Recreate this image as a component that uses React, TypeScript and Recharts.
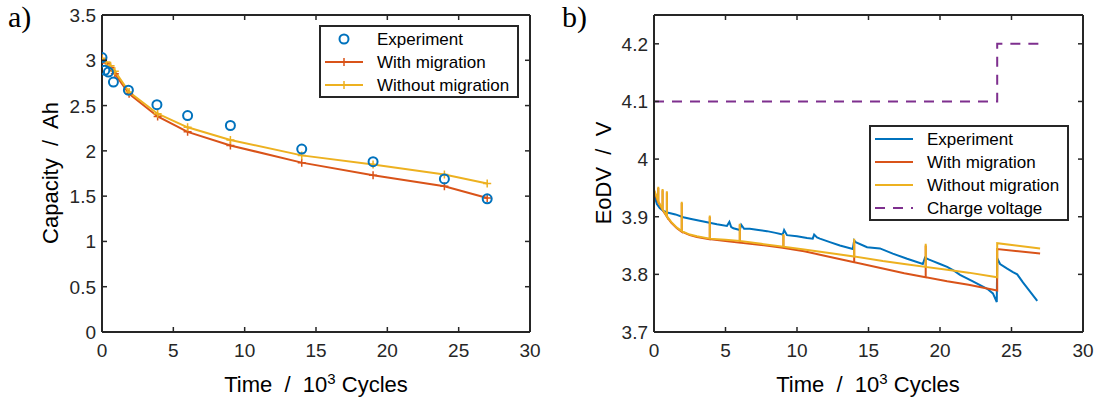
import { ComposedChart, Line, Scatter, XAxis, YAxis } from "recharts";

// ---- panel a) capacity ----
const capModelTime = [0, 0.3, 0.6, 0.9, 1.9, 3.9, 6, 9, 14, 19, 24, 27];
const capExpTime = [0, 0.2, 0.45, 0.8, 1.85, 3.85, 6, 9, 14, 19, 24, 27];
const capExp = [3.03, 2.89, 2.87, 2.76, 2.67, 2.51, 2.39, 2.28, 2.02, 1.88, 1.69, 1.47];
const capWith = [3.02, 2.97, 2.92, 2.85, 2.63, 2.38, 2.21, 2.06, 1.87, 1.73, 1.61, 1.48];
const capWithout = [3.02, 2.98, 2.94, 2.88, 2.65, 2.41, 2.26, 2.12, 1.95, 1.85, 1.74, 1.64];

// ---- panel b) end of discharge voltage ----
const eodvExpTime = [
  0, 0.2, 0.4, 0.65, 1.0, 1.5, 2.05, 2.6, 3.2, 3.8, 4.4, 5.1, 5.27, 5.4, 5.55, 6.0, 6.1, 6.3, 6.7,
  7.3, 7.9, 8.5, 9.0, 9.1, 9.3, 10.0, 10.7, 11.1, 11.2, 11.4, 11.6, 12.3, 13.0, 13.9, 14.0, 14.1,
  14.9, 15.8, 16.7, 17.7, 18.8, 18.95, 19.2, 19.5, 20.0, 20.5, 21.0, 21.4, 22.3, 23.3, 23.7, 23.97,
  24.0, 24.2, 24.7, 25.1, 25.4, 25.8, 26.3, 26.8,
];
const eodvExp = [
  3.94, 3.922, 3.915, 3.91, 3.907, 3.904, 3.899, 3.896, 3.893, 3.89, 3.887, 3.884, 3.891, 3.882,
  3.88, 3.877, 3.886, 3.879, 3.879, 3.877, 3.875, 3.872, 3.869, 3.877, 3.868, 3.866, 3.863, 3.862,
  3.869, 3.864, 3.862, 3.856, 3.85, 3.844, 3.859, 3.856, 3.847, 3.845, 3.836, 3.827, 3.818, 3.829,
  3.826, 3.823, 3.818, 3.813, 3.806, 3.799, 3.788, 3.775, 3.767, 3.752, 3.828, 3.818, 3.81, 3.804,
  3.8, 3.786, 3.77, 3.754,
];
const eodvModelTime = [
  0, 0.3, 0.3, 0.3, 0.6, 0.6, 0.6, 0.9, 0.9, 0.9, 1.2, 1.6, 1.94, 1.94, 1.94, 2.5, 3.0, 3.9, 3.9,
  3.9, 5, 6, 6, 6, 7.5, 9.05, 9.05, 9.05, 10.5, 12, 14, 14, 14, 16, 17.5, 19, 19, 19, 20.5, 22, 24,
  24, 27,
];
const eodvWith = [
  3.945, 3.925, 3.95, 3.925, 3.912, 3.946, 3.912, 3.9, 3.942, 3.9, 3.89, 3.88, 3.874, 3.924, 3.874,
  3.868, 3.865, 3.861, 3.9, 3.861, 3.858, 3.855, 3.886, 3.855, 3.851, 3.846, 3.868, 3.846, 3.84,
  3.832, 3.821, 3.858, 3.821, 3.81, 3.802, 3.795, 3.85, 3.795, 3.788, 3.782, 3.772, 3.844, 3.836,
];
const eodvWithout = [
  3.947, 3.927, 3.952, 3.927, 3.913, 3.948, 3.913, 3.901, 3.944, 3.901, 3.891, 3.881, 3.875, 3.926,
  3.875, 3.869, 3.866, 3.862, 3.902, 3.862, 3.86, 3.858, 3.888, 3.858, 3.853, 3.848, 3.87, 3.848,
  3.843, 3.838, 3.831, 3.862, 3.831, 3.823, 3.818, 3.813, 3.853, 3.813, 3.808, 3.803, 3.795, 3.854,
  3.845,
];
const chargeTime = [0, 24, 24, 27];
const chargeVoltage = [4.1, 4.1, 4.2, 4.2];

const timeTicks = [0, 5, 10, 15, 20, 25, 30];
const capTicks = [0, 0.5, 1, 1.5, 2, 2.5, 3, 3.5];
const eodvTicks = [3.7, 3.8, 3.9, 4, 4.1, 4.2];

const BLUE = "#0072BD";
const RED = "#D95319";
const YELLOW = "#EDB120";
const PURPLE = "#7E2F8E";
const AX = "#262626";
const FONT = '"Liberation Sans", Arial, Helvetica, sans-serif';
const TICK_FS = 19;

const pts = (xs: number[], ys: number[]) => xs.map((x, i) => ({ x, y: ys[i] }));

const BottomTick = ({ x, y, payload }: any) => (
  <g>
    <line x1={x} y1={y} x2={x} y2={y - 5} stroke={AX} strokeWidth={1.5} />
    <text x={x} y={y + 25} textAnchor="middle" fontSize={TICK_FS} fill={AX} fontFamily={FONT}>
      {payload.value}
    </text>
  </g>
);
const TopTick = ({ x, y }: any) => (
  <line x1={x} y1={y} x2={x} y2={y + 5} stroke={AX} strokeWidth={1.5} />
);
const LeftTick = ({ x, y, payload }: any) => (
  <g>
    <line x1={x} y1={y} x2={x + 5} y2={y} stroke={AX} strokeWidth={1.5} />
    <text x={x - 6} y={y + 7} textAnchor="end" fontSize={TICK_FS} fill={AX} fontFamily={FONT}>
      {payload.value}
    </text>
  </g>
);
const RightTick = ({ x, y }: any) => (
  <line x1={x} y1={y} x2={x - 5} y2={y} stroke={AX} strokeWidth={1.5} />
);

const PlusDot = ({ cx, cy, stroke }: any) => (
  <path d={`M${cx - 4},${cy}H${cx + 4}M${cx},${cy - 4}V${cy + 4}`} stroke={stroke} strokeWidth={1.5} fill="none" />
);
const Ring = ({ cx, cy }: any) => (
  <circle cx={cx} cy={cy} r={4.5} fill="none" stroke={BLUE} strokeWidth={2} />
);

// box axes: bottom/left carry labels, top/right only inward ticks (MATLAB "box on")
const Frame = (domain: [number, number], ticks: number[], data: { x: number; y: number }[]) => [
  <XAxis key="xb" xAxisId={0} dataKey="x" type="number" domain={[0, 30]} ticks={timeTicks} allowDataOverflow
    height={30} tickSize={0} tickMargin={0} tickLine={false} tick={<BottomTick />}
    axisLine={{ stroke: AX, strokeWidth: 2 }} />,
  <XAxis key="xt" xAxisId="top" orientation="top" dataKey="x" type="number" domain={[0, 30]} ticks={timeTicks}
    allowDataOverflow height={1} tickSize={0} tickMargin={0} tickLine={false} tick={<TopTick />}
    axisLine={{ stroke: AX, strokeWidth: 2 }} />,
  <YAxis key="yl" yAxisId={0} dataKey="y" type="number" domain={domain} ticks={ticks} allowDataOverflow
    width={60} tickSize={0} tickMargin={0} tickLine={false} tick={<LeftTick />}
    axisLine={{ stroke: AX, strokeWidth: 2 }} />,
  <YAxis key="yr" yAxisId="right" orientation="right" dataKey="y" type="number" domain={domain} ticks={ticks}
    allowDataOverflow width={1} tickSize={0} tickMargin={0} tickLine={false} tick={<RightTick />}
    axisLine={{ stroke: AX, strokeWidth: 2 }} />,
  <Line key="hidden" xAxisId="top" yAxisId="right" data={data} dataKey="y" stroke="none" dot={false}
    activeDot={false} legendType="none" isAnimationActive={false} />,
];

type Entry = { label: string; color: string; kind: "ring" | "plus" | "line" | "dash" };

const LegendBox = ({ left, top, width, entries }: { left: number; top: number; width: number; entries: Entry[] }) => {
  const rowH = 23;
  const h = entries.length * rowH + 4;
  return (
    <svg style={{ position: "absolute", left, top }} width={width} height={h}>
      <rect x={1} y={1} width={width - 2} height={h - 2} fill="#fff" stroke={AX} strokeWidth={2} />
      {entries.map((e, i) => {
        const cy = 14 + i * rowH;
        return (
          <g key={e.label}>
            {e.kind === "ring" && <circle cx={25} cy={cy} r={4.5} fill="none" stroke={e.color} strokeWidth={2} />}
            {(e.kind === "plus" || e.kind === "line") && (
              <line x1={6} x2={44} y1={cy} y2={cy} stroke={e.color} strokeWidth={2} />
            )}
            {e.kind === "plus" && <PlusDot cx={25} cy={cy} stroke={e.color} />}
            {e.kind === "dash" && (
              <line x1={6} x2={44} y1={cy} y2={cy} stroke={e.color} strokeWidth={2} strokeDasharray="10 8" />
            )}
            <text x={58} y={cy + 6} fontSize={17} fill="#000" fontFamily={FONT}>
              {e.label}
            </text>
          </g>
        );
      })}
    </svg>
  );
};

const txt: React.CSSProperties = { position: "absolute", fontFamily: FONT, color: "#000", whiteSpace: "pre" };

const TimeLabel = ({ cx }: { cx: number }) => (
  <div style={{ ...txt, left: cx - 150, width: 300, top: 370, fontSize: 22, textAlign: "center" }}>
    {"Time  /  10"}
    <span style={{ fontSize: 15, verticalAlign: 8 }}>3</span>
    {" Cycles"}
  </div>
);

const YLabel = ({ cx, cy, text }: { cx: number; cy: number; text: string }) => (
  <div
    style={{
      ...txt, left: cx - 100, top: cy - 12, width: 200, height: 24, fontSize: 22, textAlign: "center",
      transform: "rotate(-90deg)", lineHeight: "24px",
    }}
  >
    {text}
  </div>
);

export default function App() {
  const capExpData = pts(capExpTime, capExp);
  const capWithData = pts(capModelTime, capWith);
  const capWithoutData = pts(capModelTime, capWithout);
  const eExp = pts(eodvExpTime, eodvExp);
  const eWith = pts(eodvModelTime, eodvWith);
  const eWithout = pts(eodvModelTime, eodvWithout);
  const eCharge = pts(chargeTime, chargeVoltage);

  return (
    <div style={{ position: "absolute", left: 0, top: 0, width: 1098, height: 403, background: "#fff" }}>
      <div style={{ position: "absolute", left: 0, top: 0 }}>
        <ComposedChart width={550} height={403} margin={{ top: 14, right: 19, bottom: 41, left: 42 }}>
          {Frame([0, 3.5], capTicks, capWithData)}
          <Line data={capWithData} dataKey="y" type="linear" stroke={RED} strokeWidth={2}
            dot={<PlusDot stroke={RED} />} isAnimationActive={false} />
          <Line data={capWithoutData} dataKey="y" type="linear" stroke={YELLOW} strokeWidth={2}
            dot={<PlusDot stroke={YELLOW} />} isAnimationActive={false} />
          <Scatter data={capExpData} dataKey="y" shape={<Ring />} isAnimationActive={false} />
        </ComposedChart>
      </div>
      <div style={{ position: "absolute", left: 548, top: 0 }}>
        <ComposedChart width={550} height={403} margin={{ top: 14, right: 14, bottom: 41, left: 46 }}>
          {Frame([3.7, 4.25], eodvTicks, eCharge)}
          <Line data={eExp} dataKey="y" type="linear" stroke={BLUE} strokeWidth={2} dot={false} isAnimationActive={false} />
          <Line data={eWith} dataKey="y" type="linear" stroke={RED} strokeWidth={2} dot={false} isAnimationActive={false} />
          <Line data={eWithout} dataKey="y" type="linear" stroke={YELLOW} strokeWidth={2} dot={false} isAnimationActive={false} />
          <Line data={eCharge} dataKey="y" type="linear" stroke={PURPLE} strokeWidth={2} strokeDasharray="10 8"
            dot={false} isAnimationActive={false} />
        </ComposedChart>
      </div>

      <LegendBox left={319} top={25} width={200} entries={[
        { label: "Experiment", color: BLUE, kind: "ring" },
        { label: "With migration", color: RED, kind: "plus" },
        { label: "Without migration", color: YELLOW, kind: "plus" },
      ]} />
      <LegendBox left={869} top={125} width={200} entries={[
        { label: "Experiment", color: BLUE, kind: "line" },
        { label: "With migration", color: RED, kind: "line" },
        { label: "Without migration", color: YELLOW, kind: "line" },
        { label: "Charge voltage", color: PURPLE, kind: "dash" },
      ]} />

      <TimeLabel cx={316} />
      <TimeLabel cx={868} />
      <YLabel cx={51} cy={173} text="Capacity  /  Ah" />
      <YLabel cx={604} cy={173} text="EoDV  /  V" />

      <div style={{ ...txt, left: 8, top: 0, fontSize: 30, fontFamily: '"Liberation Serif", "DejaVu Serif", serif' }}>a)</div>
      <div style={{ ...txt, left: 562, top: 0, fontSize: 30, fontFamily: '"Liberation Serif", "DejaVu Serif", serif' }}>b)</div>
    </div>
  );
}
